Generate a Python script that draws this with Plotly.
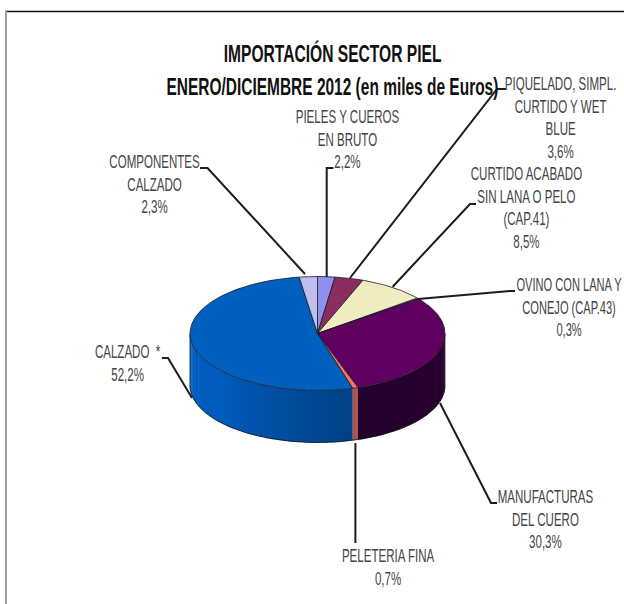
import numpy as np
import plotly.graph_objects as go

# Data, clockwise from 12 o'clock
categories = ["PIELES Y CUEROS<br>EN BRUTO", "PIQUELADO, SIMPL.<br>CURTIDO Y WET<br>BLUE",
              "CURTIDO ACABADO<br>SIN LANA O PELO<br>(CAP.41)", "OVINO CON LANA Y<br>CONEJO (CAP.43)",
              "MANUFACTURAS<br>DEL CUERO", "PELETERIA FINA", "CALZADO  *", "COMPONENTES<br>CALZADO"]
values = [2.2, 3.6, 8.5, 0.3, 30.3, 0.7, 52.2, 2.3]
value_labels = ["2,2%", "3,6%", "8,5%", "0,3%", "30,3%", "0,7%", "52,2%", "2,3%"]
top_colors = ["#9090EE", "#8B2D5E", "#EFEDBF", "#C8EDEE", "#5F0060", "#FF7060", "#0060BE", "#BFBFEF"]
wall_left = [None, None, None, None, (42, 0, 48), (176, 82, 72), (0, 52, 104), None]
wall_right = [None, None, None, None, (36, 0, 44), (176, 82, 72), (0, 92, 190), None]

title_lines = ["IMPORTACIÓN SECTOR PIEL", "ENERO/DICIEMBRE 2012 (en miles de Euros)"]

# Layout (pixels)
CX, CY, RX, RY, DEPTH = 317.5, 333.5, 127.5, 57.0, 52.0
FONT = "Liberation Sans, Arial, sans-serif"
label_pos = [(347, 140), (560, 118), (526, 208), (569, 308), (545, 520), (388, 567), (127, 363), (154, 185)]
label_lines = [
    [(333.5, 168), (326.7, 168), (326.7, 277)],
    [(506, 89), (497, 89), (350, 278)],
    [(476, 204), (470, 204), (392.7, 286.7)],
    [(515, 291), (510, 291), (418, 299)],
    [(497, 503), (491, 503), (440, 403)],
    [(355.4, 543), (355.4, 443)],
    [(162, 358), (168, 358), (192, 398)],
    [(200, 168), (207.5, 168), (305, 274)],
]


def px(theta, drop=0.0):
    return CX + RX * np.sin(theta), CY - RY * np.cos(theta) + drop


fig = go.Figure()
edges = np.cumsum([0.0] + values) / sum(values) * 2 * np.pi

# Side wall: only the front half (90 deg to 270 deg) is visible
for i in range(len(values)):
    if wall_left[i] is None:
        continue
    a = max(edges[i], np.pi / 2)
    b = min(edges[i + 1], 3 * np.pi / 2)
    if b <= a:
        continue
    n = max(1, int((b - a) / np.radians(3)))
    steps = np.linspace(a, b, n + 1)
    for k in range(n):
        t = np.linspace(steps[k], min(steps[k + 1] + 0.01, b), 5)
        x1, y1 = px(t)
        x2, y2 = px(t[::-1], DEPTH)
        f = (steps[k] - np.pi / 2) / np.pi
        f = min(1, max(0, (f - 0.22) / 0.55)) if i == 6 else k / max(n - 1, 1)
        c = [round(wall_left[i][j] + (wall_right[i][j] - wall_left[i][j]) * f) for j in range(3)]
        col = f"rgb({c[0]},{c[1]},{c[2]})"
        fig.add_trace(go.Scatter(x=np.r_[x1, x2], y=np.r_[y1, y2], mode="lines", fill="toself",
                                 fillcolor=col, line=dict(color=col, width=0.3), hoverinfo="skip",
                                 showlegend=False))

# Outlines of the wall
t = np.linspace(np.pi / 2, 3 * np.pi / 2, 120)
bx, by = px(t, DEPTH)
fig.add_trace(go.Scatter(x=bx, y=by, mode="lines", line=dict(color="#111", width=0.8),
                         hoverinfo="skip", showlegend=False))
for th in [np.pi / 2, 3 * np.pi / 2]:
    x0, y0 = px(th)
    fig.add_trace(go.Scatter(x=[x0, x0], y=[y0, y0 + DEPTH], mode="lines",
                             line=dict(color="#111", width=0.6), hoverinfo="skip", showlegend=False))

# Top face
for i, v in enumerate(values):
    t = np.linspace(edges[i], edges[i + 1], max(3, int(v * 4)))
    x, y = px(t)
    fig.add_trace(go.Scatter(x=np.r_[CX, x, CX], y=np.r_[CY, y, CY], mode="lines", fill="toself",
                             fillcolor=top_colors[i], line=dict(color="#1a1a2a", width=0.8),
                             name=categories[i].replace("<br>", " "), text=value_labels[i],
                             hoverinfo="name+text", showlegend=False))

# Leader lines
for pts in label_lines:
    fig.add_trace(go.Scatter(x=[p[0] for p in pts], y=[p[1] for p in pts], mode="lines",
                             line=dict(color="#1c1c1c", width=2), hoverinfo="skip", showlegend=False))

# Labels
for name, val, (x, y) in zip(categories, value_labels, label_pos):
    fig.add_annotation(x=x, y=y, xref="x", yref="y", text=f"{name}<br>{val}", showarrow=False,
                       align="center", font=dict(family=FONT, size=17.5, color="#444444"))

fig.add_annotation(x=332, y=53, xref="x", yref="y", text=f"<b>{title_lines[0]}</b>", showarrow=False,
                   font=dict(family=FONT, size=24, color="#111"))
fig.add_annotation(x=332, y=86, xref="x", yref="y", text=f"<b>{title_lines[1]}</b>", showarrow=False,
                   font=dict(family=FONT, size=24, color="#111"))

# Frame
fig.add_shape(type="line", x0=5, x1=624, y0=11.5, y1=11.5, xref="x", yref="y", line=dict(color="#111", width=1.5))
fig.add_shape(type="line", x0=6, x1=6, y0=11, y1=604, xref="x", yref="y", line=dict(color="#a0a0a0", width=2))

fig.update_layout(width=624, height=604, margin=dict(l=0, r=0, t=0, b=0), paper_bgcolor="white",
                  plot_bgcolor="white", showlegend=False,
                  xaxis=dict(range=[0, 624], visible=False, fixedrange=True),
                  yaxis=dict(range=[604, 0], visible=False, fixedrange=True))

# Narrow the text horizontally, as the reference uses a condensed face that is not installed
squeeze = """
document.body.style.margin='0';document.body.style.overflow='hidden';
var sx=[.66,.66,.66,.635,.66,.66,.66,.66,.65,.645];
document.querySelectorAll('text.annotation-text').forEach(function(t,i){
  var b=t.getBBox(),c=b.x+b.width/2;
  t.setAttribute('transform','translate('+c+',0) scale('+sx[i]+',1) translate('+(-c)+',0)');
});
"""
fig.write_html("out.html", post_script=squeeze, config={"displayModeBar": False})
